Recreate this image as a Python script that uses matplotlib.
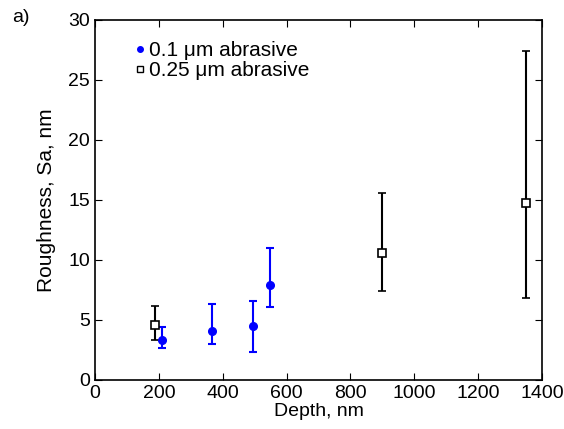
import numpy as np
import matplotlib
matplotlib.use("Agg")
import matplotlib.pyplot as plt
from matplotlib.lines import Line2D

plt.rcParams['font.family'] = ['Liberation Sans', 'DejaVu Sans']

# 0.1 um abrasive
d01 = [210, 367, 494, 549]
sa01 = [3.33, 4.08, 4.5, 7.89]
lo01 = [2.69, 2.97, 2.33, 6.06]
hi01 = [4.44, 6.36, 6.58, 10.97]

# 0.25 um abrasive
d025 = [189, 899, 1351]
sa025 = [4.58, 10.56, 14.78]
lo025 = [3.36, 7.44, 6.86]
hi025 = [6.19, 15.56, 27.4]

labels = ['0.1 μm abrasive', '0.25 μm abrasive']

fig = plt.figure(figsize=(5.64, 4.29), dpi=100)
ax = fig.add_axes([95/564, 1-380/429, 447/564, 360/429])

err01 = [np.array(sa01) - np.array(lo01), np.array(hi01) - np.array(sa01)]
err025 = [np.array(sa025) - np.array(lo025), np.array(hi025) - np.array(sa025)]

ax.errorbar(d01, sa01, yerr=err01, fmt='o', color='#0000ff', ms=5.5,
            capsize=3, elinewidth=1.5, capthick=1.5)
ax.errorbar(d025, sa025, yerr=err025, fmt='s', color='black', mfc='white',
            ms=6, mew=1.2, capsize=3, elinewidth=1.5, capthick=1.5)

ax.set_xlim(0, 1400)
ax.set_ylim(0, 30)
ax.set_xticks(np.arange(0, 1401, 200))
ax.set_yticks(np.arange(0, 31, 5))
ax.tick_params(direction='in', top=True, right=True, labelsize=14, length=5)
for s in ax.spines.values():
    s.set_linewidth(1.2)
ax.set_xlabel('Depth, nm', fontsize=14, labelpad=1)
ax.set_ylabel('Roughness, Sa, nm', fontsize=15, labelpad=9)

handles = [Line2D([], [], ls='none', marker='o', color='#0000ff', ms=4),
           Line2D([], [], ls='none', marker='s', color='black', mfc='white',
                  ms=4.5, mew=1)]
ax.legend(handles, labels, loc='upper left',
          bbox_to_anchor=(134/564, 1-41/429), bbox_transform=fig.transFigure,
          frameon=False, fontsize=15, handletextpad=0.1, handlelength=0.6,
          borderaxespad=0, borderpad=0, labelspacing=0.05)

fig.text(12/564, 1-18/429, 'a)', fontsize=14, va='center')

fig.savefig('out.png', dpi=100)
